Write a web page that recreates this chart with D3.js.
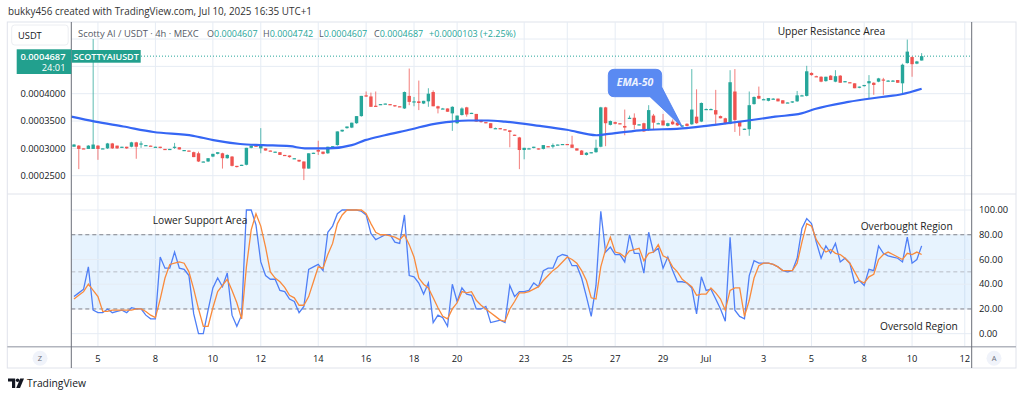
<!DOCTYPE html>
<html><head><meta charset="utf-8">
<script src="https://cdn.jsdelivr.net/npm/d3@7"></script>
<style>
html,body{margin:0;padding:0;background:#fff;}
svg{display:block;font-family:"Open Sans","Noto Sans",sans-serif;}
</style>
</head><body><svg id="c" width="1024" height="397"></svg>
<script>
// price values are in units of 1e-4 USDT  (3.05 -> 0.000305)
const candles = [ // [open, high, low, close]
[3.03,3.08,3.03,3.07],[3.05,3.06,2.62,2.99],[3.00,3.00,2.99,2.99],[2.99,3.06,2.99,3.05],[2.99,5.00,2.99,3.07],
[3.05,3.06,2.79,2.99],[2.99,3.00,2.99,3.00],[3.00,3.10,2.99,3.09],[3.09,3.10,2.99,3.00],[3.05,3.05,2.99,3.00],
[3.02,3.03,3.02,3.03],[3.03,3.03,2.99,3.00],[3.03,3.12,3.02,3.11],[3.11,3.12,2.81,3.03],[3.08,3.13,3.01,3.09],
[3.06,3.06,3.05,3.06],[3.05,3.05,3.04,3.04],[3.03,3.03,3.02,3.03],[3.03,3.03,3.00,3.01],[2.99,2.99,2.98,2.98],
[2.98,2.99,2.98,2.99],[3.02,3.10,2.99,3.03],[3.02,3.02,2.98,2.98],[2.97,2.97,2.96,2.97],[2.96,2.96,2.95,2.95],
[2.93,2.94,2.84,2.84],[2.91,2.94,2.75,2.76],[2.76,2.76,2.75,2.76],[2.76,2.82,2.75,2.82],[2.85,2.90,2.84,2.90],
[2.90,2.93,2.89,2.93],[2.91,2.92,2.63,2.82],[2.82,2.89,2.81,2.88],[2.85,2.86,2.67,2.68],[2.68,2.68,2.65,2.66],
[2.69,2.70,2.69,2.70],[2.70,3.01,2.69,3.01],[3.01,3.05,3.00,3.05],[3.05,3.05,3.04,3.04],[3.00,3.37,2.91,3.07],
[3.00,3.00,2.96,2.96],[2.96,2.96,2.95,2.95],[2.94,2.94,2.93,2.94],[2.93,2.93,2.88,2.88],[2.88,2.88,2.87,2.87],
[2.87,2.87,2.83,2.84],[2.82,2.82,2.81,2.82],[2.79,2.79,2.75,2.76],[2.76,2.76,2.42,2.63],[2.63,2.91,2.63,2.91],
[2.91,2.92,2.91,2.92],[2.97,3.14,2.88,2.94],[2.94,2.94,2.89,2.90],[2.91,3.03,2.90,3.03],[3.03,3.04,3.03,3.04],
[3.06,3.31,3.05,3.31],[3.31,3.34,3.30,3.34],[3.37,3.40,3.36,3.40],[3.38,3.47,3.37,3.47],[3.46,3.59,3.45,3.59],
[3.59,3.96,3.58,3.96],[3.97,4.04,3.94,3.95],[3.95,4.02,3.76,3.76],[3.78,4.04,3.76,3.77],[3.80,3.81,3.80,3.81],
[3.81,3.82,3.81,3.82],[3.81,3.81,3.79,3.80],[3.79,3.79,3.76,3.77],[3.77,3.77,3.76,3.76],[3.73,4.04,3.72,4.03],
[3.96,4.46,3.79,3.85],[3.84,3.94,3.77,3.86],[3.86,4.24,3.70,3.83],[3.82,3.87,3.81,3.87],[3.86,4.10,3.76,4.00],
[4.03,4.06,3.77,3.77],[3.77,3.78,3.64,3.73],[3.73,3.74,3.72,3.73],[3.73,3.73,3.67,3.67],[3.64,3.77,3.32,3.76],
[3.46,3.60,3.45,3.60],[3.61,3.75,3.60,3.73],[3.75,3.76,3.58,3.62],[3.64,3.65,3.64,3.65],[3.63,3.63,3.49,3.49],
[3.52,3.52,3.47,3.48],[3.48,3.48,3.46,3.47],[3.46,3.46,3.37,3.37],[3.37,3.38,3.36,3.37],[3.37,3.37,3.35,3.36],
[3.35,3.35,3.33,3.34],[3.33,3.33,3.02,3.30],[3.25,3.25,3.23,3.24],[3.20,3.21,2.62,2.97],[2.97,3.01,2.80,3.01],
[3.00,3.01,2.99,3.00],[3.01,3.03,3.00,3.03],[3.00,3.00,2.98,2.99],[2.99,3.06,2.98,3.06],[3.04,3.04,3.03,3.03],
[3.03,3.09,3.00,3.06],[3.06,3.07,3.06,3.07],[3.07,3.08,3.07,3.08],[3.08,3.08,3.07,3.07],[3.07,3.23,3.01,3.01],
[3.00,3.00,2.96,2.96],[2.96,2.97,2.88,2.88],[2.88,2.93,2.87,2.92],[2.92,2.93,2.91,2.93],[2.93,3.16,2.92,3.01],
[3.03,3.76,3.02,3.75],[3.75,3.76,3.04,3.46],[3.43,3.51,3.42,3.50],[3.48,3.49,3.44,3.45],[3.46,3.46,3.44,3.45],
[3.41,3.71,3.24,3.38],[3.56,3.60,3.54,3.56],[3.56,3.64,3.35,3.43],[3.43,3.44,3.42,3.44],[3.46,3.47,3.30,3.31],
[3.34,3.79,3.32,3.70],[3.60,3.63,3.34,3.47],[3.46,3.47,3.45,3.46],[3.51,3.63,3.42,3.42],[3.41,3.47,3.40,3.46],
[3.49,3.53,3.43,3.44],[3.47,3.48,3.41,3.42],[3.41,3.42,3.40,3.42],[3.45,3.46,3.40,3.41],[3.44,4.45,3.43,3.71],
[3.58,4.08,3.45,3.46],[3.49,3.84,3.48,3.83],[3.72,3.73,3.71,3.72],[3.72,3.73,3.71,3.72],[3.70,4.07,3.43,3.62],
[3.59,3.60,3.55,3.55],[3.55,3.56,3.44,3.45],[3.45,4.43,3.44,4.21],[4.04,4.45,3.30,3.52],[3.49,3.50,3.23,3.40],
[3.35,3.36,3.34,3.36],[3.35,4.04,3.23,3.79],[3.81,3.95,3.80,3.94],[3.96,4.13,3.90,3.91],[3.90,3.91,3.89,3.90],
[3.87,3.92,3.86,3.92],[3.91,3.92,3.90,3.91],[3.91,3.91,3.86,3.86],[3.88,3.88,3.82,3.82],[3.83,3.84,3.83,3.84],
[3.84,3.86,3.83,3.86],[3.86,4.05,3.85,3.97],[3.97,3.98,3.96,3.97],[3.96,4.51,3.95,4.41],[4.38,4.39,4.33,4.34],
[4.32,4.33,4.31,4.31],[4.31,4.32,4.21,4.22],[4.23,4.31,4.22,4.31],[4.33,4.34,4.25,4.25],[4.22,4.43,4.21,4.32],
[4.33,4.34,4.20,4.20],[4.22,4.23,4.21,4.23],[4.21,4.21,4.20,4.20],[4.19,4.19,4.10,4.10],[4.11,4.13,4.10,4.13],
[4.14,4.16,4.13,4.16],[4.19,4.34,3.92,4.23],[4.20,4.21,3.98,4.16],[4.22,4.29,4.21,4.28],[4.26,4.29,3.98,4.24],
[4.24,4.25,4.23,4.24],[4.24,4.25,4.23,4.24],[4.25,4.25,4.20,4.20],[4.19,4.55,3.99,4.53],[4.56,4.99,4.55,4.77],
[4.67,4.68,4.31,4.54],[4.55,4.60,4.54,4.59],[4.607,4.742,4.607,4.687]
];
// EMA-50 line read as [bar index, value]
const emaPoints = [[-0.6,3.58],[4.4,3.49],[10.3,3.40],[16.6,3.30],[24.9,3.23],[29.1,3.15],[34.7,3.08],[39.5,3.06],
[45.1,3.04],[48.2,3.00],[53.1,3.00],[58.0,3.06],[60.8,3.15],[64.9,3.24],[70.5,3.35],[74.7,3.44],[78.9,3.49],
[82.3,3.51],[86.5,3.51],[90.0,3.49],[97.3,3.41],[102.9,3.34],[109.1,3.24],[111.2,3.26],[118.2,3.33],[127.9,3.37],
[133.8,3.43],[140.8,3.51],[146.4,3.58],[151.9,3.64],[154.7,3.72],[161.7,3.85],[168.7,3.94],[172.8,3.99],[177,4.09]];
const stochK = [30,33,36,54,19,17,17,20,17,18,19,17,21,20,20,15,12,12,62,53,53,66,53,52,47,16,0,0,19,37,
45,38,49,15,6,15,100,100,88,58,47,44,44,35,34,28,26,17,22,52,54,56,51,82,87,97,100,100,100,100,
99,96,81,76,78,80,80,74,73,96,47,46,41,32,41,9,15,13,6,40,26,37,32,31,20,20,22,9,10,11,
9,39,30,34,34,35,41,38,51,53,53,62,64,63,55,55,45,30,14,39,99,66,70,64,64,58,80,65,65,49,
82,66,69,53,62,51,42,42,41,37,16,46,35,36,28,20,10,78,19,14,12,47,59,57,57,57,56,54,51,50,
51,61,85,93,89,74,61,71,65,73,58,61,57,41,43,39,52,51,71,65,63,62,61,58,78,57,60,71];
const stochD = [28,31,34,40,35,30,18,18,19,19,19,19,19,20,20,18,15,13,28,45,56,57,58,57,50,36,20,6,6,21,
34,39,44,35,25,12,54,84,97,87,70,50,45,42,37.5,31,29,23,23,30,42,54,53,64,73,89,96,100,100,100,
100,97,89,82,80,80,79,78,76,80,72,62,45,40,37,29,21,14,12,20,25,34,33,34,27,23,20,17,14,11,
10,20,26,33,33,34,36,38,43,47,51,54,58,62,60,57,51,43,29,28,54,68,78,66,65,62,67,68,69,59,
65,66,72,63,61,54,50,44,41,38,31,32,32,37,33,28,19,35,37,37,14,27,45,55,57,57,56,54,51,51,
51,57,74,89,87,76,70,66,68,65,64,61,57,50,43,41,46,48,60,64,66,64,62,60,65,64,66,64];
const timeTickIdx = [5,17,29,39,51,61,71,80,94,103,113,123,132,144,154,165,175,186];
const timeTickLabels = ["5","8","10","12","14","16","18","20","23","25","27","29","Jul","3","5","8","10","12"];
const priceTicks = [2.5,3.0,3.5,4.0];
const priceGrid = [2.5,3.0,3.5,4.0,4.5,5.0];
const stochTicks = [0,20,40,60,80,100];
const stochDashed = [80,50,20];
const lastPrice = 4.687;
const legendOHLC = [["O","0.0004607"],["H","0.0004742"],["L","0.0004607"],["C","0.0004687"]];
const legendChange = "+0.0000103 (+2.25%)";

const svg = d3.select("#c");
const L = 71.3, R = 971.7, T = 22, SPLIT = 194, PB = 346.7, AB = 368;
const FX0 = 7.3, FX1 = 1016;
const up = "#26a69a", dn = "#ef5350", gridC = "#e6ecf4", txt = "#131722";

const x = d3.scaleLinear().domain([-0.564, 187.45]).range([L, R]);
const yP = d3.scaleLinear().domain([2.5, 4.0]).range([175.7, 93.7]);
const yS = d3.scaleLinear().domain([0, 100]).range([333.7, 210]);

const defs = svg.append("defs");
defs.append("clipPath").attr("id","cpTop").append("rect").attr("x",L).attr("y",T).attr("width",R-L).attr("height",SPLIT-T);
defs.append("clipPath").attr("id","cpBot").append("rect").attr("x",L).attr("y",SPLIT).attr("width",R-L).attr("height",PB-SPLIT);

// header
svg.append("text").attr("x",8).attr("y",15).attr("font-size",9.9).attr("fill","#333")
  .text("bukky456 created with TradingView.com, Jul 10, 2025 16:35 UTC+1");

// frame
svg.append("rect").attr("x",FX0).attr("y",T).attr("width",FX1-FX0).attr("height",AB-T)
  .attr("fill","none").attr("stroke","#e0e3eb");

// grids
const gTop = svg.append("g").attr("clip-path","url(#cpTop)");
const gBot = svg.append("g").attr("clip-path","url(#cpBot)");
[gTop,gBot].forEach(g=>{
  g.selectAll(null).data(timeTickIdx).join("line")
    .attr("x1",d=>x(d)).attr("x2",d=>x(d)).attr("y1",T).attr("y2",PB)
    .attr("stroke",gridC).attr("stroke-width",1);
});
gTop.selectAll(null).data(priceGrid).join("line")
  .attr("x1",L).attr("x2",R).attr("y1",d=>yP(d)).attr("y2",d=>yP(d)).attr("stroke",gridC);

// stoch band + grid
gBot.append("rect").attr("x",L).attr("width",R-L).attr("y",yS(80)).attr("height",yS(20)-yS(80))
  .attr("fill","rgba(33,150,243,0.11)");
gBot.selectAll(null).data(stochTicks).join("line")
  .attr("x1",L).attr("x2",R).attr("y1",d=>yS(d)).attr("y2",d=>yS(d)).attr("stroke",gridC);
gBot.selectAll(null).data(stochDashed).join("line")
  .attr("x1",L).attr("x2",R).attr("y1",d=>yS(d)).attr("y2",d=>yS(d))
  .attr("stroke",d=>d===50?"#b8bcc6":"#80838d").attr("stroke-dasharray","4,3");

// separators
svg.append("line").attr("x1",FX0).attr("x2",FX1).attr("y1",SPLIT).attr("y2",SPLIT).attr("stroke","#e0e3eb");
svg.append("line").attr("x1",FX0).attr("x2",FX1).attr("y1",PB).attr("y2",PB).attr("stroke","#b2b5be").attr("stroke-width",1.5);
[L,R].forEach(v=>svg.append("line").attr("x1",v).attr("x2",v).attr("y1",T).attr("y2",AB).attr("stroke","#6b6e78").attr("stroke-width",1));

// current price dotted line
gTop.append("line").attr("x1",141).attr("x2",R).attr("y1",yP(lastPrice)).attr("y2",yP(lastPrice))
  .attr("stroke",up).attr("stroke-dasharray","1,2").attr("stroke-width",1);

// candles
const cg = gTop.append("g");
const bw = 3.4;
candles.forEach((c,i)=>{
  const [o,h,l,cl] = c;
  const col = cl >= o ? up : dn;
  const cx = x(i);
  cg.append("line").attr("x1",cx).attr("x2",cx).attr("y1",yP(h)).attr("y2",yP(l))
    .attr("stroke",col).attr("stroke-width",1).attr("opacity",0.75);
  const y1 = yP(Math.max(o,cl)), y2 = yP(Math.min(o,cl));
  cg.append("rect").attr("x",cx-bw/2).attr("y",y1).attr("width",bw).attr("height",Math.max(1.2,y2-y1)).attr("fill",col);
});

// EMA
gTop.append("path").datum(emaPoints)
  .attr("d",d3.line().x(d=>x(d[0])).y(d=>yP(d[1])).curve(d3.curveMonotoneX))
  .attr("fill","none").attr("stroke","#3566f4").attr("stroke-width",2.2);

// stochastic lines
const sl = d3.line().x((d,i)=>x(i)).y(d=>yS(d));
gBot.append("path").datum(stochK).attr("d",sl).attr("fill","none").attr("stroke","#4f7ff6").attr("stroke-width",1.3);
gBot.append("path").datum(stochD).attr("d",sl).attr("fill","none").attr("stroke","#f98a3c").attr("stroke-width",1.3);

// price axis (left)
svg.selectAll(null).data(priceTicks).join("text")
  .attr("x",65.5).attr("y",d=>yP(d)).attr("dy","0.35em").attr("text-anchor","end")
  .attr("font-size",9.3).attr("fill",txt).text(d=>(d*1e-4).toFixed(7));

// stoch axis (right)
svg.selectAll(null).data(stochTicks).join("text")
  .attr("x",979).attr("y",d=>yS(d)).attr("dy","0.35em")
  .attr("font-size",9.3).attr("fill",txt).text(d=>d.toFixed(2));

// time axis
svg.selectAll(null).data(timeTickIdx).join("text")
  .attr("x",d=>x(d)).attr("y",358.3).attr("dy","0.35em").attr("text-anchor","middle")
  .attr("font-size",9.3).attr("fill",txt).text((d,i)=>timeTickLabels[i]);

// Z / A buttons
[[40,"Z"],[994,"A"]].forEach(([cx,t])=>{
  svg.append("circle").attr("cx",cx).attr("cy",358.3).attr("r",7.5).attr("fill","#f0f3fa");
  svg.append("text").attr("x",cx).attr("y",358.3).attr("dy","0.35em").attr("text-anchor","middle")
    .attr("font-size",7.5).attr("fill","#6a6d78").text(t);
});

// USDT box
svg.append("rect").attr("x",11.7).attr("y",25).attr("width",56.5).attr("height",20).attr("rx",3)
  .attr("fill","#fff").attr("stroke","#eceef2");
svg.append("text").attr("x",18).attr("y",35.3).attr("dy","0.35em").attr("font-size",9.3).attr("fill",txt).text("USDT");

// legend line
const lgY = 33.5, lgFs = 9.0;
svg.append("text").attr("x",78).attr("y",lgY).attr("dy","0.35em").attr("font-size",9.4)
  .attr("fill","#555a66").text("Scotty AI / USDT · 4h · MEXC");
const lgX = [207,263,319,374];
legendOHLC.forEach(([k,v],i)=>{
  const t = svg.append("text").attr("x",lgX[i]).attr("y",lgY).attr("dy","0.35em").attr("font-size",lgFs);
  t.append("tspan").attr("fill","#555a66").text(k);
  t.append("tspan").attr("fill",up).text(v);
});
svg.append("text").attr("x",429).attr("y",lgY).attr("dy","0.35em").attr("font-size",lgFs)
  .attr("fill",up).text(legendChange);

// price label boxes
svg.append("rect").attr("x",16.7).attr("y",49.3).attr("width",54.6).attr("height",24.7).attr("fill","#22a08e");
svg.append("text").attr("x",65.5).attr("y",56.7).attr("dy","0.35em").attr("text-anchor","end")
  .attr("font-size",9.3).attr("font-weight",600).attr("fill","#fff").text((lastPrice*1e-4).toFixed(7));
svg.append("text").attr("x",65.5).attr("y",67.7).attr("dy","0.35em").attr("text-anchor","end")
  .attr("font-size",9.3).attr("fill","#fff").text("24:01");
svg.append("rect").attr("x",71.7).attr("y",50).attr("width",69).attr("height",12.7).attr("fill","#22a08e");
svg.append("text").attr("x",106.2).attr("y",56.4).attr("dy","0.35em").attr("text-anchor","middle")
  .attr("font-size",9).attr("font-weight",600).attr("fill","#fff").text("SCOTTYAIUSDT");

// annotations
const ann = [["Upper Resistance Area",777.7,31.6],["Lower Support Area",152.7,220.7],
             ["Overbought Region",860.7,226.7],["Oversold Region",880,326]];
ann.forEach(([t,ax,ay])=>svg.append("text").attr("x",ax).attr("y",ay).attr("dy","0.35em")
  .attr("font-size",10.2).attr("fill","#222").text(t));

// EMA-50 callout
const bx0=608.3, by0=69.3, bx1=661.7, by1=96.7, r=6;
const tip=[682.7,127.5];
const bubble = d3.path();
bubble.moveTo(bx0+r,by0); bubble.lineTo(bx1-r,by0); bubble.quadraticCurveTo(bx1,by0,bx1,by0+r);
bubble.lineTo(bx1,87); bubble.lineTo(tip[0],tip[1]); bubble.lineTo(650,by1);
bubble.lineTo(bx0+r,by1); bubble.quadraticCurveTo(bx0,by1,bx0,by1-r);
bubble.lineTo(bx0,by0+r); bubble.quadraticCurveTo(bx0,by0,bx0+r,by0); bubble.closePath();
svg.append("path").attr("d",bubble.toString()).attr("fill","#5a8af2").attr("stroke","#4b7cf0").attr("stroke-width",0.8);
svg.append("text").attr("x",635).attr("y",82.2).attr("dy","0.35em").attr("text-anchor","middle")
  .attr("font-size",10.5).attr("font-style","italic").attr("font-weight",700).attr("fill","#eef3ff").text("EMA-50");

// TradingView footer logo
const logo = svg.append("g").attr("fill","#131722");
logo.append("path").attr("d","M8,378.5 h7.2 v9.5 h-3.2 v-6.6 h-4 z");
logo.append("circle").attr("cx",17.6).attr("cy",380.3).attr("r",1.8);
logo.append("path").attr("d","M20.2,378.5 h3.8 l-4,9.5 h-3.8 z");
svg.append("text").attr("x",27).attr("y",383.3).attr("dy","0.35em").attr("font-size",10.3)
  .attr("fill","#131722").text("TradingView");
</script>
</body></html>
